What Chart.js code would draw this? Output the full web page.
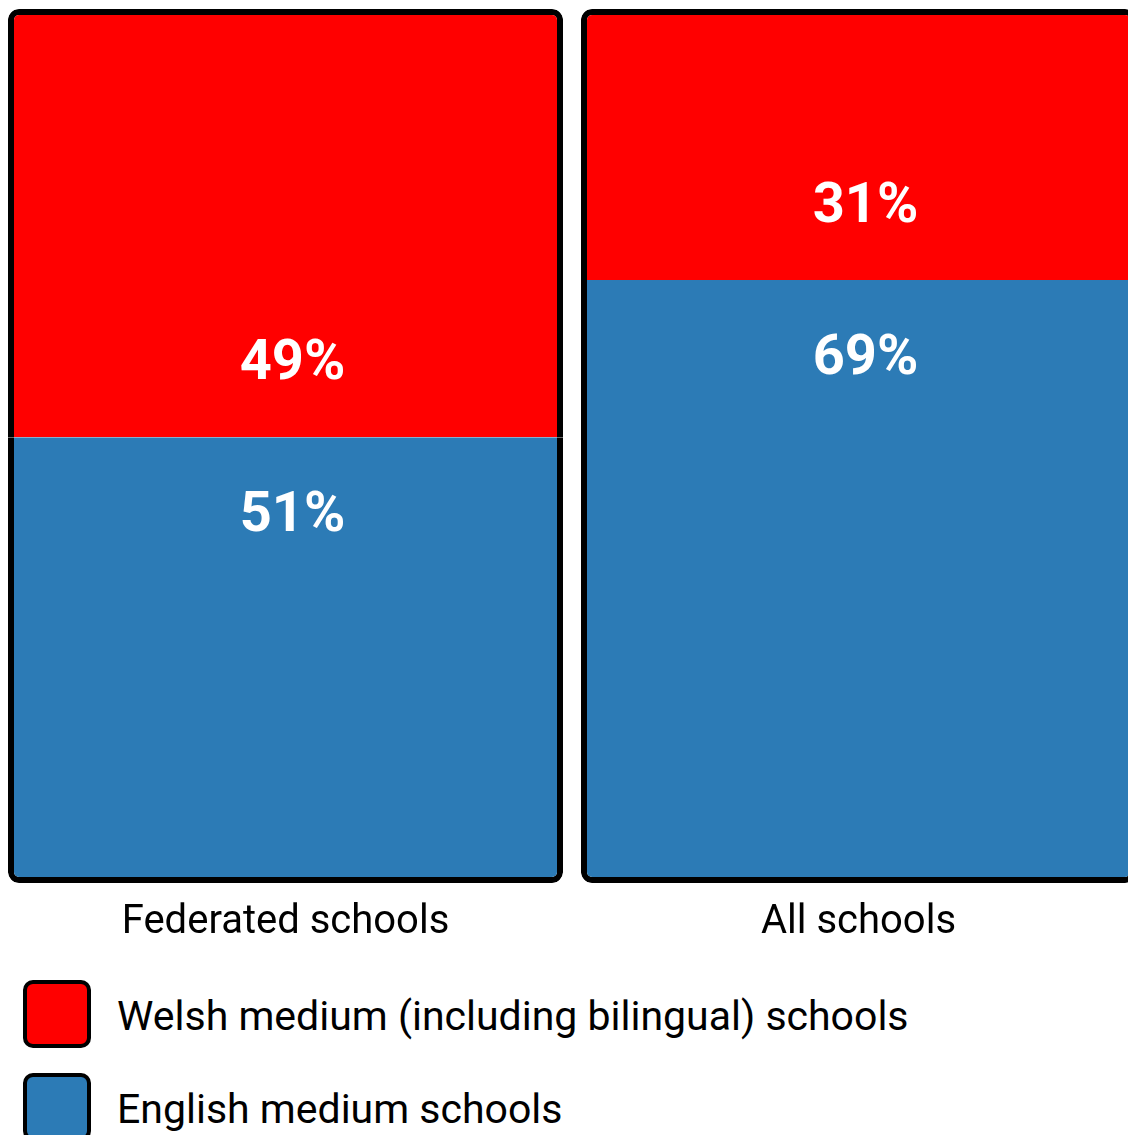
<!DOCTYPE html>
<html lang="en">
<head>
    <meta charset="UTF-8">
    <title>Welsh and English medium schools</title>
    <script src="https://cdn.jsdelivr.net/npm/chart.js@4.4.1/dist/chart.umd.min.js"></script>
    <style>
        html, body {
            margin: 0;
            padding: 0;
            background: #fff;
            overflow: hidden;
            width: 1128px;
            height: 1135px;
            font-family: Roboto, 'Noto Sans', sans-serif;
        }
        .chart-box {
            position: absolute;
            left: -1px;
            top: 0;
            width: 1146px;
            height: 945px;
        }
        .legend {
            position: absolute;
            left: 23px;
            top: 980px;
        }
        .legend-item {
            display: flex;
            align-items: center;
            height: 68px;
            margin-bottom: 25px;
        }
        .legend-swatch {
            width: 68px;
            height: 68px;
            box-sizing: border-box;
            border: 4px solid #000;
            border-radius: 10px;
        }
        .legend-text {
            margin-left: 26px;
            font-size: 41px;
            color: #000;
            white-space: nowrap;
            position: relative;
            top: 2px;
        }
    </style>
</head>
<body>
    <div class="chart-box">
        <canvas id="chart"></canvas>
    </div>
    <div class="legend" id="legend"></div>

    <script>
        // data
        const categories = ['Federated schools', 'All schools'];
        const englishShare = [51, 69];
        const welshShare = [49, 31];

        const seriesNames = ['Welsh medium (including bilingual) schools', 'English medium schools'];
        const welshColor = '#ff0000';
        const englishColor = '#2c7bb6';

        // white percentage labels, placed relative to the red/blue boundary
        const percentLabels = {
            id: 'percentLabels',
            afterDatasetsDraw(chart) {
                const ctx = chart.ctx;
                ctx.save();
                ctx.fillStyle = '#fff';
                ctx.font = 'bold 56px Roboto';
                ctx.textAlign = 'center';
                ctx.textBaseline = 'middle';
                chart.data.datasets.forEach((ds, i) => {
                    const meta = chart.getDatasetMeta(i);
                    meta.data.forEach((bar, j) => {
                        const p = bar.getProps(['x', 'y', 'base'], true);
                        const y = ds.labelFrom === 'base' ? p.base + ds.labelOffset : p.y + ds.labelOffset;
                        ctx.fillText(ds.data[j] + '%', p.x + 7, y);
                    });
                });
                ctx.restore();
            }
        };

        new Chart(document.getElementById('chart'), {
            type: 'bar',
            data: {
                labels: categories,
                datasets: [
                    {
                        label: seriesNames[1],
                        data: englishShare,
                        backgroundColor: englishColor,
                        borderColor: '#000',
                        borderWidth: { top: 0, left: 6, right: 6, bottom: 6 },
                        borderRadius: { topLeft: 0, topRight: 0, bottomLeft: 11, bottomRight: 11 },
                        borderSkipped: false,
                        labelFrom: 'top',
                        labelOffset: 80
                    },
                    {
                        label: seriesNames[0],
                        data: welshShare,
                        backgroundColor: welshColor,
                        borderColor: '#000',
                        borderWidth: { top: 6, left: 6, right: 6, bottom: 0 },
                        borderRadius: { topLeft: 11, topRight: 11, bottomLeft: 0, bottomRight: 0 },
                        borderSkipped: false,
                        labelFrom: 'base',
                        labelOffset: -72
                    }
                ]
            },
            options: {
                responsive: true,
                maintainAspectRatio: false,
                animation: false,
                layout: { padding: { top: 9, left: 0, right: 0, bottom: 0 } },
                datasets: {
                    bar: { barPercentage: 0.9686, categoryPercentage: 1 }
                },
                plugins: {
                    legend: { display: false },
                    tooltip: { enabled: false }
                },
                scales: {
                    x: {
                        stacked: true,
                        grid: { display: false, drawTicks: false },
                        border: { display: false },
                        ticks: {
                            color: '#000',
                            padding: 16,
                            font: { family: 'Roboto', size: 40 }
                        },
                        afterFit(scale) { scale.height = 62; }
                    },
                    y: {
                        stacked: true,
                        display: false,
                        min: 0,
                        max: 100
                    }
                }
            },
            plugins: [percentLabels]
        });

        // legend, Welsh first like the original
        const legendEl = document.getElementById('legend');
        [[seriesNames[0], welshColor], [seriesNames[1], englishColor]].forEach(([name, color]) => {
            const item = document.createElement('div');
            item.className = 'legend-item';
            item.innerHTML = '<div class="legend-swatch" style="background:' + color + '"></div>' +
                '<span class="legend-text">' + name + '</span>';
            legendEl.appendChild(item);
        });
    </script>
</body>
</html>
